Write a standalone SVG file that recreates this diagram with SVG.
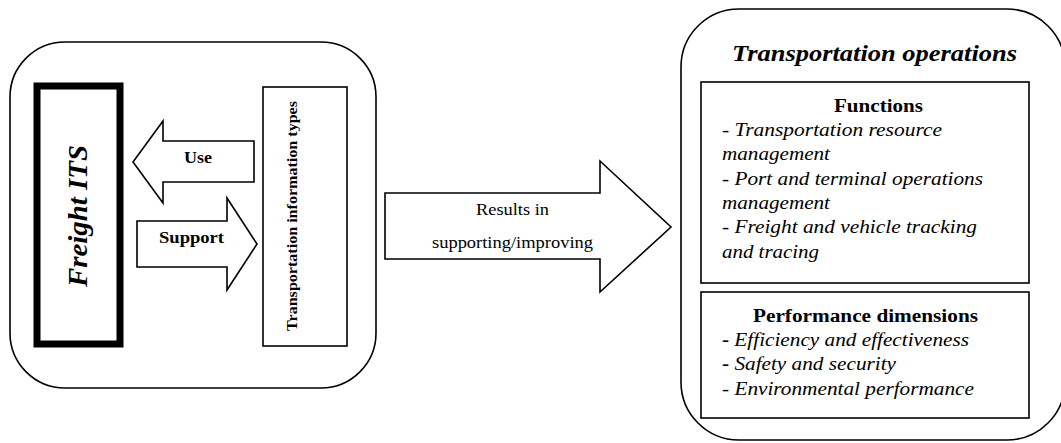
<svg xmlns="http://www.w3.org/2000/svg" width="1061" height="443" viewBox="0 0 1061 443">
<style>
.frame{fill:#fff;stroke:#000;stroke-width:1.6}
.box{fill:#fff;stroke:#000;stroke-width:1.6}
.arrow{fill:#fff;stroke:#000;stroke-width:1.6;stroke-linejoin:miter}
text{font-family:"Liberation Serif","Times New Roman",serif;fill:#000}
.b{font-weight:bold}
.i{font-style:italic}
.t17{font-size:17.5px}
.t18{font-size:18px}
</style>
<rect width="1061" height="443" fill="#fff"/>
<g id="left-group">
<rect class="frame" x="10" y="42" width="366" height="346" rx="55" ry="55"/>
</g>
<g id="freight-its">
<rect x="37" y="86" width="83" height="258" fill="#fff" stroke="#000" stroke-width="7"/>
<text class="b i" font-size="27" text-anchor="middle" textLength="142" lengthAdjust="spacingAndGlyphs" transform="translate(87,216) rotate(-90)">Freight ITS</text>
</g>
<g id="info-types">
<rect class="box" x="263" y="87" width="84" height="259"/>
<text class="b" font-size="14.5" text-anchor="middle" textLength="230" lengthAdjust="spacingAndGlyphs" transform="translate(297,216) rotate(-90)">Transportation information types</text>
</g>
<g id="connectors">
<g id="use-arrow">
<polygon class="arrow" points="133,162 163,121 163,141 254,141 254,182 163,182 163,203"/>
<text class="b t17" x="184" y="163" textLength="28" lengthAdjust="spacingAndGlyphs">Use</text>
</g>
<g id="support-arrow">
<polygon class="arrow" points="137,221 227,221 227,198 257,244 227,290 227,267 137,267"/>
<text class="b t17" x="159" y="243" textLength="65" lengthAdjust="spacingAndGlyphs">Support</text>
</g>
<g id="results-arrow">
<polygon class="arrow" points="385,193 600,193 600,161 671,227 600,292 600,259 385,259"/>
<text font-size="16.5" x="476" y="215" textLength="73" lengthAdjust="spacingAndGlyphs">Results in</text>
<text font-size="16.5" x="432" y="248" textLength="161" lengthAdjust="spacingAndGlyphs">supporting/improving</text>
</g>
</g>
<g id="transport-ops">
<rect class="frame" x="681" y="9" width="384" height="431" rx="58" ry="58"/>
<text class="b i" font-size="24" x="732" y="61" textLength="285" lengthAdjust="spacingAndGlyphs">Transportation operations</text>
</g>
<g id="functions">
<rect class="box" x="701" y="82" width="328" height="201"/>
<text class="b t18" x="834" y="112" textLength="89" lengthAdjust="spacingAndGlyphs">Functions</text>
<text class="i t18" x="722" y="136" textLength="220" lengthAdjust="spacingAndGlyphs">- Transportation resource</text>
<text class="i t18" x="722" y="160" textLength="108" lengthAdjust="spacingAndGlyphs">management</text>
<text class="i t18" x="722" y="184.5" textLength="261" lengthAdjust="spacingAndGlyphs">- Port and terminal operations</text>
<text class="i t18" x="722" y="209" textLength="108" lengthAdjust="spacingAndGlyphs">management</text>
<text class="i t18" x="722" y="233" textLength="255" lengthAdjust="spacingAndGlyphs">- Freight and vehicle tracking</text>
<text class="i t18" x="722" y="257.5" textLength="97" lengthAdjust="spacingAndGlyphs">and tracing</text>
</g>
<g id="performance">
<rect class="box" x="701" y="292" width="328" height="126"/>
<text class="b t18" x="753" y="322" textLength="225" lengthAdjust="spacingAndGlyphs">Performance dimensions</text>
<text class="t18" x="722" y="345.5" textLength="247" lengthAdjust="spacingAndGlyphs"><tspan class="b">-</tspan><tspan class="i"> Efficiency and effectiveness</tspan></text>
<text class="t18" x="722" y="370" textLength="174" lengthAdjust="spacingAndGlyphs"><tspan class="b">-</tspan><tspan class="i"> Safety and security</tspan></text>
<text class="i t18" x="722" y="394.5" textLength="252" lengthAdjust="spacingAndGlyphs">- Environmental performance</text>
</g>
</svg>
